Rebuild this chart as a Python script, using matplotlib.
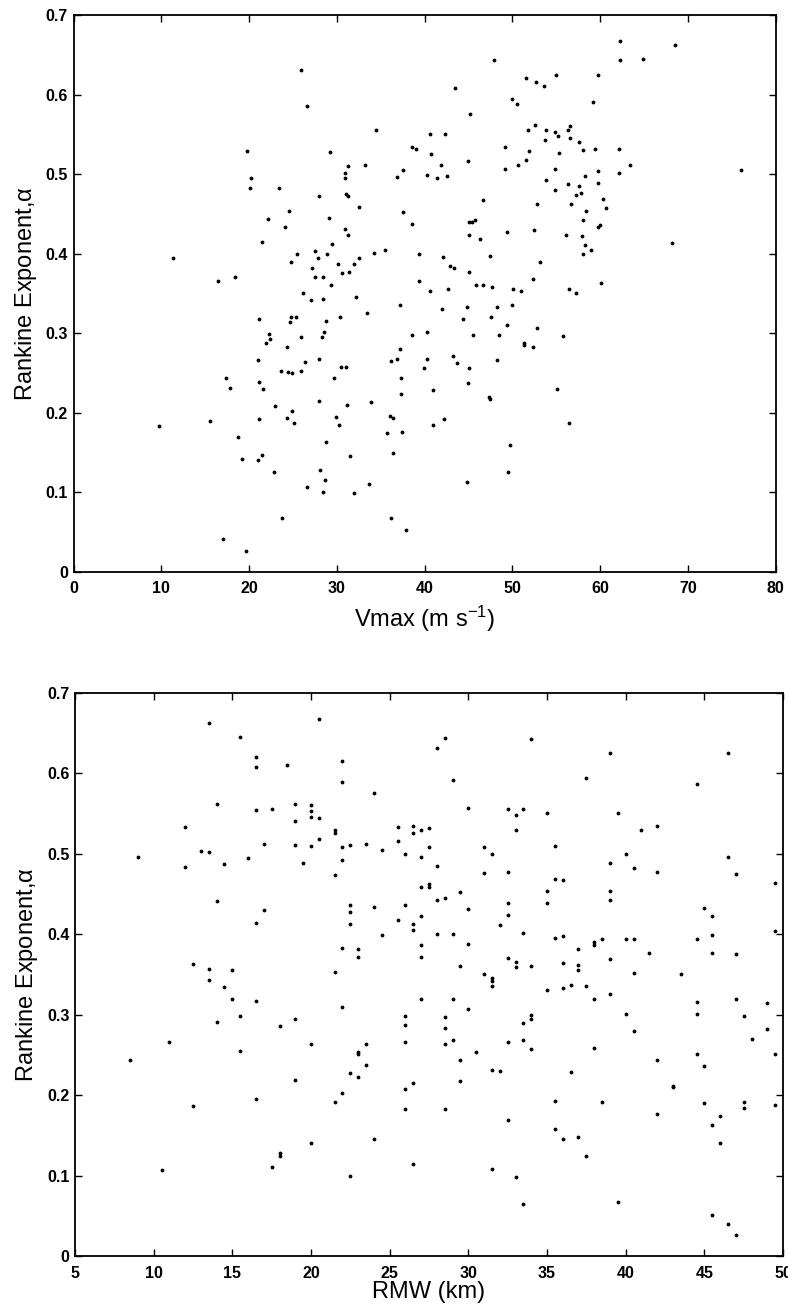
import numpy as np
import matplotlib
matplotlib.use("Agg")
import matplotlib.pyplot as plt

plt.rcParams['font.family'] = ['Liberation Sans', 'DejaVu Sans']
plt.rcParams['mathtext.default'] = 'regular'

# top panel: Vmax (m/s) vs Rankine exponent
vmax = [25.9, 26.6, 34.5, 19.8, 29.2, 38.6, 39.0, 20.2, 20.1, 23.4, 30.9, 31.3, 30.9, 33.2, 36.9, 37.5,
        28.0, 31.0, 31.3, 32.5, 24.5, 22.2, 29.1, 37.5, 24.1, 30.9, 31.3, 38.6, 21.5, 29.5, 27.5, 25.5,
        28.9, 34.2, 35.5, 39.4, 11.3, 24.8, 27.9, 32.5, 30.1, 31.9, 27.2, 16.5, 18.4, 27.5, 28.4, 30.6,
        31.4, 29.3, 39.4, 26.2, 27.1, 28.4, 32.2,
        37.2, 33.4, 21.1, 24.7, 25.3, 24.8, 30.4, 28.8, 22.3, 22.4, 21.9, 25.9, 28.5, 28.3, 38.6, 24.3,
        37.2, 21.0, 26.4, 28.0, 36.2, 36.8, 30.5, 31.0, 23.6, 24.4, 24.9, 25.9, 17.4, 29.7, 37.3, 17.8,
        21.1, 21.6, 37.3, 28.0, 23.0, 31.2, 33.9, 24.9, 9.7, 15.6, 21.1, 24.3, 25.1, 29.9, 30.3, 36.1,
        36.4, 18.7, 35.7, 37.4, 28.8, 19.2, 21.0, 21.5, 31.5, 36.4, 22.8, 28.1, 26.6, 28.7, 28.4, 31.9,
        33.7, 23.8, 36.2, 37.9, 17.0, 19.7,
        62.3, 68.5, 62.3, 64.9, 47.9, 51.5, 52.7, 53.6, 55.0, 59.7, 43.5, 49.9, 50.5, 59.2, 45.2, 40.6,
        42.3, 51.8, 52.6, 53.8, 54.9, 55.2, 56.3, 56.6, 56.6, 53.7, 57.6, 58.0, 40.7, 41.9, 40.3, 41.4,
        42.6, 44.9, 49.2, 49.2, 50.6, 51.5, 51.9, 55.3, 54.9, 59.4, 62.1, 63.4, 62.2, 59.8, 76.0, 53.8,
        54.8, 56.3, 57.6, 58.3, 59.8, 57.2, 57.8, 60.3, 46.7, 52.8, 56.7, 60.7, 58.4, 58.0, 45.1, 45.4,
        45.7, 59.7, 60.0, 45.1, 46.3, 49.4, 52.5, 56.1, 57.9, 58.3, 58.9, 58.1, 68.2, 42.1, 42.9, 43.3,
        47.4, 45.1, 53.2, 40.6, 42.7, 45.8, 46.6, 47.7, 50.1, 51.0, 52.4, 56.4, 57.3, 60.1,
        42.0, 44.8, 44.4, 47.6, 48.3, 50.0, 49.4, 52.8, 40.3, 45.5, 48.5, 51.3, 51.3, 52.4, 55.8, 40.3,
        39.9, 43.2, 43.7, 45.1, 48.3, 41.0, 44.9, 47.3, 47.4, 55.1, 41.0, 42.2, 56.4, 49.7, 49.5, 44.8]
alpha_v = [0.631, 0.586, 0.556, 0.529, 0.528, 0.534, 0.531, 0.495, 0.483, 0.482, 0.502, 0.510, 0.495, 0.511, 0.496, 0.505,
           0.473, 0.475, 0.473, 0.458, 0.453, 0.443, 0.445, 0.452, 0.433, 0.431, 0.424, 0.437, 0.415, 0.412, 0.403, 0.400,
           0.400, 0.401, 0.405, 0.399, 0.395, 0.390, 0.395, 0.395, 0.387, 0.387, 0.382, 0.365, 0.371, 0.370, 0.371, 0.375,
           0.377, 0.361, 0.366, 0.350, 0.342, 0.343, 0.345,
           0.336, 0.325, 0.318, 0.314, 0.320, 0.320, 0.320, 0.315, 0.299, 0.292, 0.288, 0.295, 0.301, 0.295, 0.298, 0.282,
           0.280, 0.266, 0.264, 0.268, 0.265, 0.267, 0.257, 0.258, 0.253, 0.251, 0.250, 0.252, 0.244, 0.243, 0.244, 0.231,
           0.238, 0.230, 0.223, 0.215, 0.208, 0.210, 0.213, 0.202, 0.183, 0.190, 0.192, 0.193, 0.187, 0.194, 0.185, 0.196,
           0.193, 0.170, 0.174, 0.176, 0.163, 0.142, 0.141, 0.147, 0.146, 0.149, 0.125, 0.128, 0.107, 0.115, 0.100, 0.099,
           0.110, 0.068, 0.067, 0.053, 0.041, 0.026,
           0.667, 0.662, 0.644, 0.645, 0.643, 0.621, 0.616, 0.611, 0.625, 0.625, 0.608, 0.594, 0.588, 0.591, 0.576, 0.551,
           0.551, 0.555, 0.562, 0.555, 0.553, 0.548, 0.555, 0.560, 0.545, 0.543, 0.540, 0.530, 0.525, 0.512, 0.499, 0.495,
           0.498, 0.516, 0.534, 0.507, 0.511, 0.518, 0.529, 0.526, 0.507, 0.532, 0.532, 0.511, 0.501, 0.504, 0.505, 0.492,
           0.480, 0.487, 0.485, 0.497, 0.489, 0.474, 0.476, 0.469, 0.467, 0.462, 0.463, 0.457, 0.454, 0.442, 0.440, 0.440,
           0.442, 0.434, 0.436, 0.424, 0.418, 0.427, 0.430, 0.424, 0.422, 0.411, 0.405, 0.400, 0.413, 0.396, 0.384, 0.382,
           0.397, 0.377, 0.389, 0.353, 0.355, 0.360, 0.361, 0.358, 0.355, 0.353, 0.368, 0.356, 0.350, 0.363,
           0.330, 0.333, 0.318, 0.320, 0.333, 0.336, 0.310, 0.307, 0.301, 0.298, 0.298, 0.287, 0.285, 0.282, 0.296, 0.268,
           0.256, 0.271, 0.263, 0.256, 0.266, 0.228, 0.237, 0.220, 0.217, 0.230, 0.185, 0.192, 0.187, 0.159, 0.125, 0.113]

# bottom panel: RMW (km) vs Rankine exponent
rmw = [13.5, 15.5, 20.5, 16.5, 16.5, 18.5, 22.0, 22.0, 24.0, 14.0, 16.5, 17.5, 19.0, 19.0, 20.0, 20.0,
       20.0, 20.5, 20.5, 21.5, 21.5, 12.0, 12.0, 9.0, 13.0, 13.5, 14.5, 16.0, 17.0, 19.0, 19.5, 20.0,
       22.0, 22.0, 22.5, 21.5, 23.5, 24.5, 25.5, 25.5, 26.5, 26.5, 27.0, 26.0, 27.0, 14.0, 17.0, 16.5,
       22.5, 22.5, 22.5, 24.0, 26.0, 25.5, 26.5, 26.5, 27.0, 27.0, 24.5, 22.0, 23.0, 27.0,
       28.0, 28.5, 34.0, 39.0, 46.5, 29.0, 37.5, 44.5, 30.0, 32.5, 33.0, 33.5, 35.0, 39.5, 33.0, 41.0,
       42.0, 27.5, 27.5, 28.0, 31.0, 31.5, 31.0, 32.5, 35.5, 40.0, 39.0, 40.5, 42.0, 46.5, 47.0, 49.5,
       27.5, 27.5, 29.5, 28.0, 28.5, 30.0, 32.5, 32.5, 32.0, 35.0, 35.0, 35.5, 36.0, 39.0, 39.0, 45.0,
       45.5, 28.0, 29.0, 33.5, 35.5, 36.0, 38.5, 38.0, 38.0, 37.0, 40.0, 40.5, 44.5, 45.5, 49.5, 30.0,
       23.0, 27.0, 12.5, 13.5, 13.5, 15.0, 14.5, 15.0, 14.0, 15.5, 16.5, 11.0, 8.5, 15.5, 18.0, 19.0,
       20.0, 21.5, 22.0, 23.0, 23.0, 23.5, 23.5, 22.5, 23.0, 27.0, 26.0, 26.0, 26.0, 26.0, 26.0, 26.5,
       22.0, 21.5, 19.0, 16.5, 12.5, 20.0, 24.0, 18.0, 18.0, 17.5, 10.5, 22.5, 26.5,
       29.5, 29.0, 30.0, 28.5, 28.5, 28.5, 29.0, 29.5, 29.5, 28.5, 30.5, 31.0, 31.5, 31.5, 31.5, 32.5,
       33.0, 33.0, 34.0, 31.5, 32.0, 32.5, 33.5, 34.0, 34.0, 33.5, 34.0, 32.5, 31.5, 33.0, 33.5, 35.0,
       36.0, 36.0, 36.5, 37.0, 37.0, 37.5, 38.0, 38.0, 39.0, 39.0, 36.5, 35.5, 38.5, 35.5, 36.0, 37.0,
       37.5, 39.5, 41.5, 40.5, 40.0, 40.5, 43.5, 42.0, 42.0, 43.0, 43.0, 45.5, 47.0, 44.5, 44.5, 44.5,
       45.0, 45.0, 45.5, 46.0, 46.0, 47.0, 47.5, 47.5, 47.5, 48.0, 49.0, 49.0, 49.5, 49.5, 45.5, 46.5, 47.0]
alpha_r = [0.662, 0.645, 0.667, 0.620, 0.608, 0.610, 0.615, 0.589, 0.576, 0.562, 0.554, 0.556, 0.562, 0.540, 0.561, 0.553,
           0.545, 0.544, 0.518, 0.530, 0.526, 0.533, 0.484, 0.496, 0.503, 0.502, 0.487, 0.494, 0.512, 0.511, 0.489, 0.510,
           0.508, 0.492, 0.511, 0.473, 0.512, 0.505, 0.533, 0.516, 0.534, 0.526, 0.529, 0.499, 0.496, 0.441, 0.430, 0.414,
           0.436, 0.427, 0.412, 0.434, 0.436, 0.417, 0.412, 0.405, 0.458, 0.423, 0.399, 0.383, 0.381, 0.387,
           0.631, 0.644, 0.643, 0.625, 0.625, 0.591, 0.594, 0.587, 0.557, 0.555, 0.548, 0.555, 0.551, 0.551, 0.530, 0.530,
           0.535, 0.532, 0.508, 0.485, 0.508, 0.500, 0.476, 0.477, 0.510, 0.500, 0.488, 0.482, 0.477, 0.496, 0.475, 0.463,
           0.462, 0.459, 0.452, 0.442, 0.445, 0.431, 0.439, 0.424, 0.411, 0.454, 0.439, 0.469, 0.467, 0.453, 0.443, 0.432,
           0.422, 0.400, 0.400, 0.402, 0.395, 0.398, 0.394, 0.390, 0.386, 0.381, 0.394, 0.394, 0.394, 0.399, 0.404, 0.388,
           0.371, 0.371, 0.363, 0.357, 0.343, 0.355, 0.334, 0.320, 0.291, 0.298, 0.317, 0.266, 0.244, 0.255, 0.286, 0.295,
           0.264, 0.353, 0.310, 0.253, 0.251, 0.264, 0.237, 0.227, 0.223, 0.320, 0.298, 0.287, 0.266, 0.208, 0.183, 0.215,
           0.202, 0.192, 0.219, 0.195, 0.187, 0.141, 0.146, 0.128, 0.124, 0.111, 0.107, 0.100, 0.114,
           0.361, 0.320, 0.307, 0.297, 0.283, 0.263, 0.268, 0.244, 0.218, 0.183, 0.253, 0.351, 0.345, 0.342, 0.336, 0.370,
           0.366, 0.359, 0.361, 0.231, 0.230, 0.266, 0.289, 0.299, 0.294, 0.268, 0.257, 0.169, 0.108, 0.098, 0.065, 0.330,
           0.364, 0.333, 0.337, 0.362, 0.355, 0.335, 0.320, 0.258, 0.369, 0.325, 0.229, 0.193, 0.192, 0.158, 0.145, 0.148,
           0.124, 0.067, 0.377, 0.352, 0.301, 0.280, 0.351, 0.243, 0.176, 0.211, 0.210, 0.377, 0.375, 0.316, 0.301, 0.251,
           0.236, 0.190, 0.163, 0.174, 0.141, 0.320, 0.298, 0.191, 0.184, 0.270, 0.315, 0.282, 0.251, 0.188, 0.051, 0.040, 0.026]

ylabels = ['0', '0.1', '0.2', '0.3', '0.4', '0.5', '0.6', '0.7']

fig = plt.figure(figsize=(7.88, 13.10), dpi=100)
ax1 = fig.add_axes([0.0933, 0.5636, 0.8911, 0.4249])
ax2 = fig.add_axes([0.0952, 0.0412, 0.8985, 0.4300])

def style(ax):
    ax.tick_params(direction='in', top=True, right=True, length=5, width=1,
                   labelsize=11.5)
    ax.tick_params(axis='x', pad=7)
    ax.tick_params(axis='y', pad=4)
    for lab in ax.get_xticklabels() + ax.get_yticklabels():
        lab.set_fontweight('bold')
    for s in ax.spines.values():
        s.set_linewidth(1.3)

ax1.plot(vmax, alpha_v, 'k.', markersize=3.5)
ax1.set_xlim(0, 80)
ax1.set_ylim(0, 0.7)
ax1.set_xticks(np.arange(0, 81, 10))
ax1.set_yticks(np.arange(0, 0.71, 0.1))
ax1.set_yticklabels(ylabels)
ax1.set_xlabel('Vmax (m s$^{-1}$)', fontsize=17, labelpad=5)
ax1.set_ylabel('Rankine Exponent,$\\alpha$', fontsize=17, labelpad=5)
style(ax1)

ax2.plot(rmw, alpha_r, 'k.', markersize=3.5)
ax2.set_xlim(5, 50)
ax2.set_ylim(0, 0.7)
ax2.set_xticks(np.arange(5, 51, 5))
ax2.set_yticks(np.arange(0, 0.71, 0.1))
ax2.set_yticklabels(ylabels)
ax2.set_xlabel('RMW (km)', fontsize=17, labelpad=0)
ax2.set_ylabel('Rankine Exponent,$\\alpha$', fontsize=17, labelpad=5)
style(ax2)

fig.savefig('out.png', dpi=100)
